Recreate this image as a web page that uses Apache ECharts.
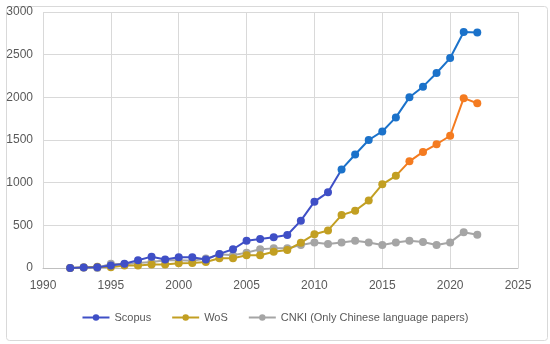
<!DOCTYPE html>
<html><head><meta charset="utf-8">
<script src="https://cdn.jsdelivr.net/npm/echarts@6/dist/echarts.min.js"></script>
<style>html,body{margin:0;padding:0;background:#fff}#c{width:550px;height:344px}</style>
</head><body><div id="c"></div>
<script>
const years = [1992,1993,1994,1995,1996,1997,1998,1999,2000,2001,2002,2003,2004,2005,2006,2007,2008,2009,2010,2011,2012,2013,2014,2015,2016,2017,2018,2019,2020,2021,2022];
const scopus = [0,5,10,30,50,90,133,100,125,125,100,165,220,320,340,360,387,555,777,887,1155,1330,1500,1600,1765,2000,2125,2285,2460,2765,2760];
const wos = [0,5,15,10,30,30,40,40,55,60,70,115,115,150,150,190,210,297,395,440,620,670,790,980,1080,1250,1360,1450,1550,1990,1930];
const cnki = [0,10,0,50,45,60,70,90,90,85,110,160,150,180,220,230,230,270,300,280,300,320,300,270,300,320,305,270,300,420,390];
const seriesNames = ['Scopus','WoS','CNKI (Only Chinese language papers)'];

const pair = a => years.map((y,i)=>[y,a[i]]);
const split = 1130;
const scLow='#3F4FC6', scHigh='#1B72CA', wLow='#C29F22', wHigh='#F47B20', grey='#A5A5A5';
function grad(low, high, maxV, splitV){
  const f = Math.max(0, Math.min(1, 1 - splitV/maxV));
  return new echarts.graphic.LinearGradient(0,0,0,1,[
    {offset:0,color:high},{offset:Math.max(0,f-0.03),color:high},
    {offset:Math.min(1,f+0.03),color:low},{offset:1,color:low}]);
}
const chart = echarts.init(document.getElementById('c'), null, {renderer:'canvas'});
chart.setOption({
  animation:false,
  textStyle:{fontFamily:'Liberation Sans, Arial, sans-serif'},
  graphic:[{type:'rect',left:4,top:4,shape:{width:541,height:334,r:3},style:{fill:'none',stroke:'#D9D9D9',lineWidth:1},z:-1}],
  grid:{left:43,right:32,top:12,bottom:76},
  xAxis:{type:'value',min:1990,max:2025,interval:5,
    axisLine:{show:true,lineStyle:{color:'#BFBFBF'}},axisTick:{show:false},
    axisLabel:{color:'#595959',fontSize:12,margin:12,formatter:v=>String(v)},
    splitLine:{show:true,lineStyle:{color:'#D9D9D9'}}},
  yAxis:{type:'value',min:0,max:3000,interval:500,
    axisLine:{show:false},axisTick:{show:false},
    axisLabel:{color:'#595959',fontSize:12,margin:10,formatter:v=>String(v)},
    splitLine:{show:true,lineStyle:{color:'#D9D9D9'}}},
  legend:{bottom:16,left:'center',itemWidth:27,itemHeight:8,itemGap:20,
    textStyle:{color:'#595959',fontSize:11},
    data:[{name:seriesNames[0],itemStyle:{color:scLow},lineStyle:{color:scLow}},
          {name:seriesNames[1],itemStyle:{color:wLow},lineStyle:{color:wLow}},
          {name:seriesNames[2],itemStyle:{color:grey},lineStyle:{color:grey}}]},
  series:[
    {name:seriesNames[2],type:'line',data:pair(cnki),symbol:'circle',symbolSize:8,
     lineStyle:{width:2,color:grey},itemStyle:{color:grey},z:2},
    {name:seriesNames[1],type:'line',data:pair(wos),symbol:'circle',symbolSize:8,
     lineStyle:{width:2,color:grad(wLow,wHigh,Math.max(...wos),split)},
     itemStyle:{color:p=>p.value[1]>split?wHigh:wLow},z:3},
    {name:seriesNames[0],type:'line',data:pair(scopus),symbol:'circle',symbolSize:8,
     lineStyle:{width:2,color:grad(scLow,scHigh,Math.max(...scopus),split)},
     itemStyle:{color:p=>p.value[1]>split?scHigh:scLow},z:4}
  ]
});
</script></body></html>
